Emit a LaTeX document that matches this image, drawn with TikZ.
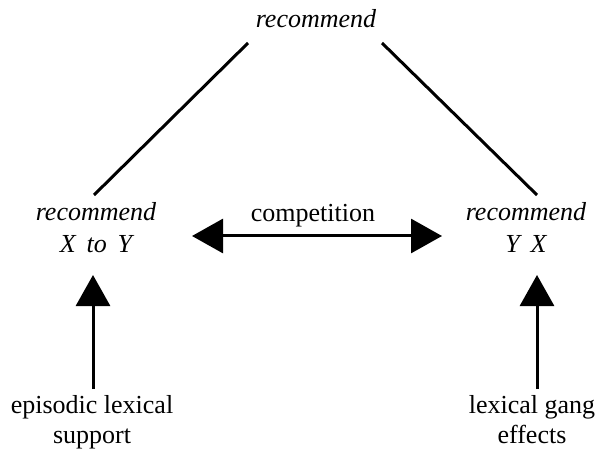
\documentclass[tikz,border=0pt]{standalone}
\usepackage{fontspec}
\setmainfont{Liberation Serif}
\usetikzlibrary{arrows.meta}
\begin{document}
\begin{tikzpicture}[x=1pt,y=-1pt,
  label text/.style={font=\fontsize{26}{30}\selectfont, inner sep=0pt, anchor=base, align=center},
  link/.style={line width=3pt},
  bigarrow/.style={line width=3pt, -{Triangle[length=31pt,width=34pt]}},
  bigarrows/.style={line width=3pt, {Triangle[length=31pt,width=34pt]}-{Triangle[length=31pt,width=34pt]}}]
  \useasboundingbox (0,0) rectangle (597,449);

  % constructions (base = baseline of the last line)
  \node[label text] (top) at (316,28) {\itshape recommend};
  \node[label text] (xtoy) at (96,252) {\itshape recommend\\[2pt]\itshape X\, to\, Y};
  \node[label text] (yx) at (526,252) {\itshape recommend\\[2pt]\itshape Y\, X};
  \node[label text] (comp) at (313,222) {competition};

  % sources of support
  \node[label text] (episodic) at (92,443) {episodic lexical\\support};
  \node[label text] (gang) at (532,443) {lexical gang\\effects};

  % connector end points
  \coordinate (topL) at (248,43);
  \coordinate (topR) at (382,43);
  \coordinate (xtoyTop) at (94,195);
  \coordinate (yxTop) at (537,195);
  \coordinate (xtoyRight) at (192,236);
  \coordinate (yxLeft) at (442,236);
  \coordinate (xtoyBottom) at (93,275);
  \coordinate (yxBottom) at (537,275);
  \coordinate (episodicTop) at (93,389);
  \coordinate (gangTop) at (537,389);

  % inheritance links
  \draw[link] (topL) -- (xtoyTop);
  \draw[link] (topR) -- (yxTop);

  % competition between the two constructions
  \draw[bigarrows] (xtoyRight) -- (yxLeft);

  % support arrows
  \draw[bigarrow] (episodicTop) -- (xtoyBottom);
  \draw[bigarrow] (gangTop) -- (yxBottom);
\end{tikzpicture}
\end{document}
